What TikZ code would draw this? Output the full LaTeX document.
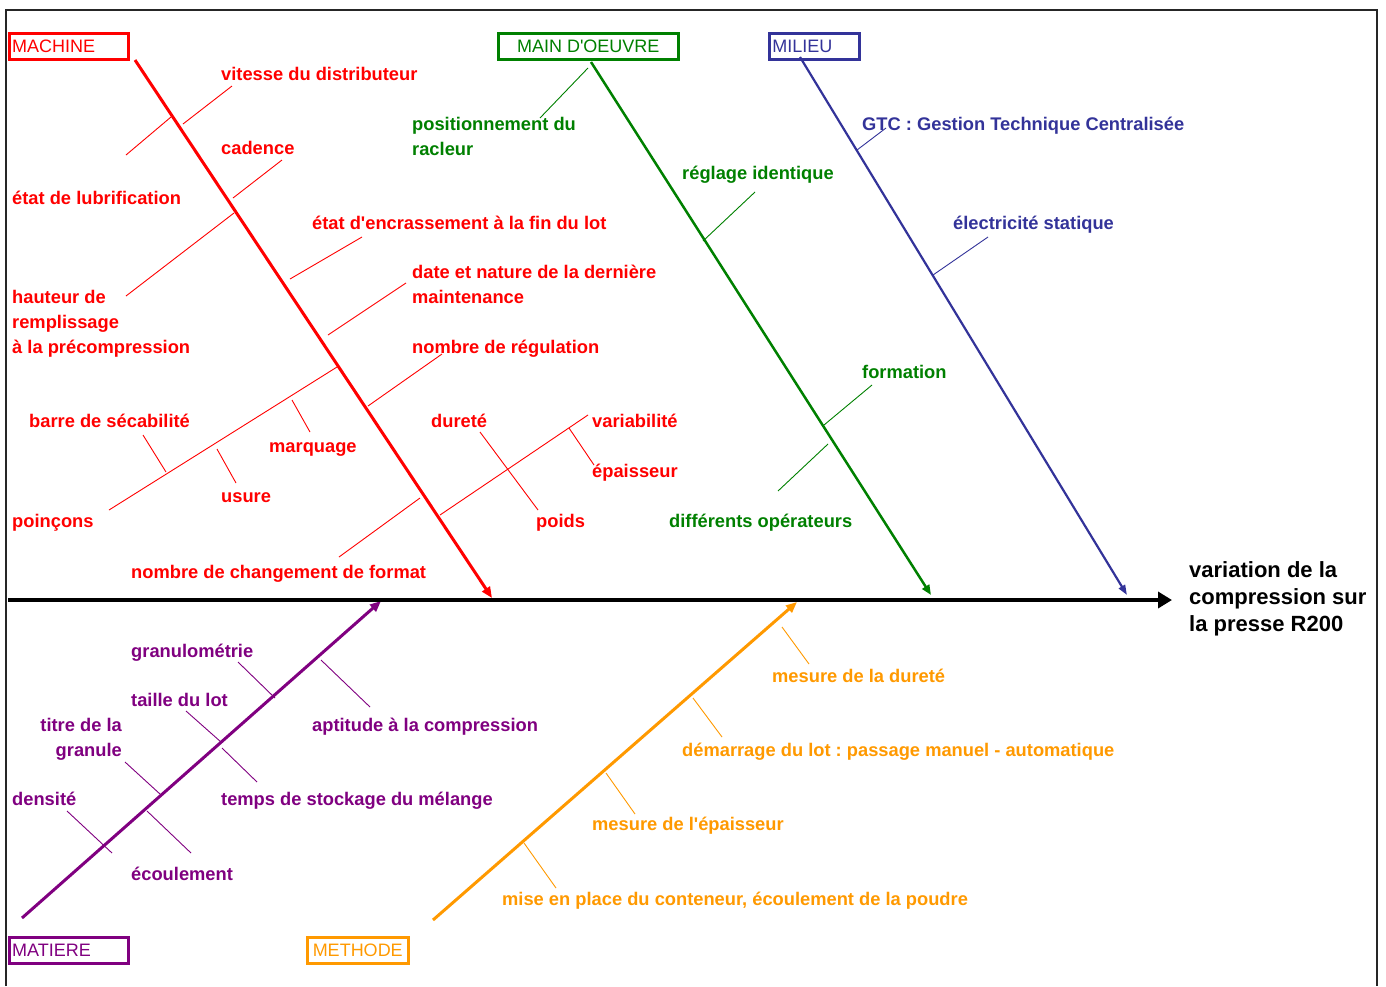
\documentclass[tikz,border=0pt]{standalone}
\usepackage{fontspec}
\setmainfont{Liberation Sans}[Ligatures=TeXOff]
\usetikzlibrary{arrows.meta}

\definecolor{cmachine}{HTML}{FF0000}
\definecolor{cmain}{HTML}{008000}
\definecolor{cmilieu}{HTML}{333399}
\definecolor{cmatiere}{HTML}{800080}
\definecolor{cmethode}{HTML}{FF9900}

\begin{document}
\frenchspacing
\begin{tikzpicture}[x=1pt,y=-1pt,
  % multi-line labels are anchored on the baseline of their last line
  lbl/.style={font=\fontsize{18.3}{25}\selectfont\bfseries\frenchspacing, inner sep=0pt, anchor=base west, align=left},
  effect/.style={font=\fontsize{22}{27}\selectfont\bfseries, inner sep=0pt, anchor=base west, align=left},
  ttl/.style={draw, line width=2.5pt, font=\fontsize{18}{20}\selectfont, anchor=north west,
              inner ysep=0pt, minimum height=26pt},
  bone/.style={line width=3pt},
  twig/.style={line width=0.9pt},
]
\useasboundingbox (0,0) rectangle (1386,986);

% outer frame (open at the bottom)
\draw[line width=2.5pt, black!85] (6,986) -- (6,10) -- (1377,10) -- (1377,986);

% category boxes
\node[ttl, draw=cmachine, text=cmachine, minimum width=119pt, text width=113pt, inner xsep=3pt, align=left]
  (machine) at (8,32) {MACHINE};
\node[ttl, draw=cmain, text=cmain, minimum width=180pt]
  (main) at (497,32) {MAIN D'OEUVRE};
\node[ttl, draw=cmilieu, text=cmilieu, minimum width=90pt, text width=84pt, inner xsep=3pt, align=left]
  (milieu) at (768,32) {MILIEU};
\node[ttl, draw=cmatiere, text=cmatiere, minimum width=119pt, text width=113pt, inner xsep=3pt, align=left]
  (matiere) at (8,936) {MATIERE};
\node[ttl, draw=cmethode, text=cmethode, minimum width=101pt]
  (methode) at (306,936) {METHODE};

% effect
\node[effect] (effet) at (1189,631) {variation de la\\compression sur\\la presse R200};

% bone end points
\coordinate (tail)  at (8,600);
\coordinate (head)  at (1172,600);
\coordinate (ma-s)  at (135,60);   \coordinate (ma-e)  at (492,598);
\coordinate (mo-s)  at (591,62);   \coordinate (mo-e)  at (931,595);
\coordinate (mi-s)  at (800,57);   \coordinate (mi-e)  at (1127,595);
\coordinate (mt-s)  at (22,918);   \coordinate (mt-e)  at (381,601);
\coordinate (me-s)  at (433,920);  \coordinate (me-e)  at (797,602);

% ---- MACHINE causes
\begin{scope}[twig, cmachine]
  \draw (183,124) -- (232,86);
  \draw (126,155) -- (171,117);
  \draw (233,198) -- (282,160);
  \draw (126,296) -- (234,213);
  \draw (290,279) -- (362,237);
  \draw (328,335) -- (406,283);
  \draw (368,406) -- (442,354);
  \draw (109,510) -- (337,367);
  \draw (292,400) -- (310,432);
  \draw (143,435) -- (166,472);
  \draw (217,449) -- (236,483);
  \draw (440,515) -- (588,415);
  \draw (339,557) -- (420,498);
  \draw (480,432) -- (538,510);
  \draw (569,428) -- (594,465);
\end{scope}
\begin{scope}[every node/.style={lbl, text=cmachine}]
  \node (c1)  at (221,80)  {vitesse du distributeur};
  \node (c2)  at (221,154) {cadence};
  \node (c3)  at (12,204)  {état de lubrification};
  \node (c4)  at (312,229) {état d'encrassement à la fin du lot};
  \node (c5)  at (412,303) {date et nature de la dernière\\maintenance};
  \node (c6)  at (12,353)  {hauteur de\\remplissage\\à la précompression};
  \node (c7)  at (412,353) {nombre de régulation};
  \node (c8)  at (29,427)  {barre de sécabilité};
  \node (c9)  at (269,452) {marquage};
  \node (c10) at (221,502) {usure};
  \node (c11) at (12,527)  {poinçons};
  \node (c12) at (431,427) {dureté};
  \node (c13) at (592,427) {variabilité};
  \node (c14) at (592,477) {épaisseur};
  \node (c15) at (536,527) {poids};
  \node (c16) at (131,578) {nombre de changement de format};
\end{scope}

% ---- MAIN D'OEUVRE causes
\begin{scope}[twig, cmain]
  \draw (540,118) -- (588,68);
  \draw (703,241) -- (755,192);
  \draw (824,425) -- (872,385);
  \draw (778,491) -- (828,444);
\end{scope}
\begin{scope}[every node/.style={lbl, text=cmain}]
  \node (o1) at (412,155) {positionnement du\\racleur};
  \node (o2) at (682,179) {réglage identique};
  \node (o3) at (862,378) {formation};
  \node (o4) at (669,527) {différents opérateurs};
\end{scope}

% ---- MILIEU causes
\begin{scope}[twig, cmilieu]
  \draw (857,150) -- (886,128);
  \draw (933,275) -- (988,237);
\end{scope}
\begin{scope}[every node/.style={lbl, text=cmilieu}]
  \node (l1) at (862,130) {GTC : Gestion Technique Centralisée};
  \node (l2) at (953,229) {électricité statique};
\end{scope}

% ---- MATIERE causes
\begin{scope}[twig, cmatiere]
  \draw (238,662) -- (275,698);
  \draw (321,660) -- (370,707);
  \draw (186,711) -- (221,742);
  \draw (222,748) -- (257,782);
  \draw (125,762) -- (160,794);
  \draw (147,811) -- (191,853);
  \draw (67,811)  -- (112,853);
\end{scope}
\begin{scope}[every node/.style={lbl, text=cmatiere}]
  \node (t1) at (131,657) {granulométrie};
  \node (t2) at (131,706) {taille du lot};
  \node[anchor=base east, align=right] (t3) at (122,756) {titre de la\\granule};
  \node (t4) at (312,731) {aptitude à la compression};
  \node (t5) at (12,805)  {densité};
  \node (t6) at (221,805) {temps de stockage du mélange};
  \node (t7) at (131,880) {écoulement};
\end{scope}

% ---- METHODE causes
\begin{scope}[twig, cmethode]
  \draw (782,627) -- (809,664);
  \draw (693,698) -- (722,737);
  \draw (606,773) -- (635,814);
  \draw (524,843) -- (556,888);
\end{scope}
\begin{scope}[every node/.style={lbl, text=cmethode}]
  \node (e1) at (772,682) {mesure de la dureté};
  \node (e2) at (682,756) {démarrage du lot : passage manuel - automatique};
  \node (e3) at (592,830) {mesure de l'épaisseur};
  \node (e4) at (502,905) {mise en place du conteneur, écoulement de la poudre};
\end{scope}

% ---- main bones
\draw[bone, cmachine, -{Triangle[length=11pt,width=9pt]}] (ma-s) -- (ma-e);
\draw[line width=2.5pt, cmain, -{Triangle[length=10pt,width=8pt]}] (mo-s) -- (mo-e);
\draw[line width=2.2pt, cmilieu, -{Triangle[length=10pt,width=7pt]}] (mi-s) -- (mi-e);
\draw[bone, cmatiere, -{Triangle[length=11pt,width=9pt]}] (mt-s) -- (mt-e);
\draw[bone, cmethode, -{Triangle[length=11pt,width=9pt]}] (me-s) -- (me-e);

% ---- spine
\draw[line width=4pt, -{Triangle[length=14pt,width=16pt]}] (tail) -- (head);
\end{tikzpicture}
\end{document}
